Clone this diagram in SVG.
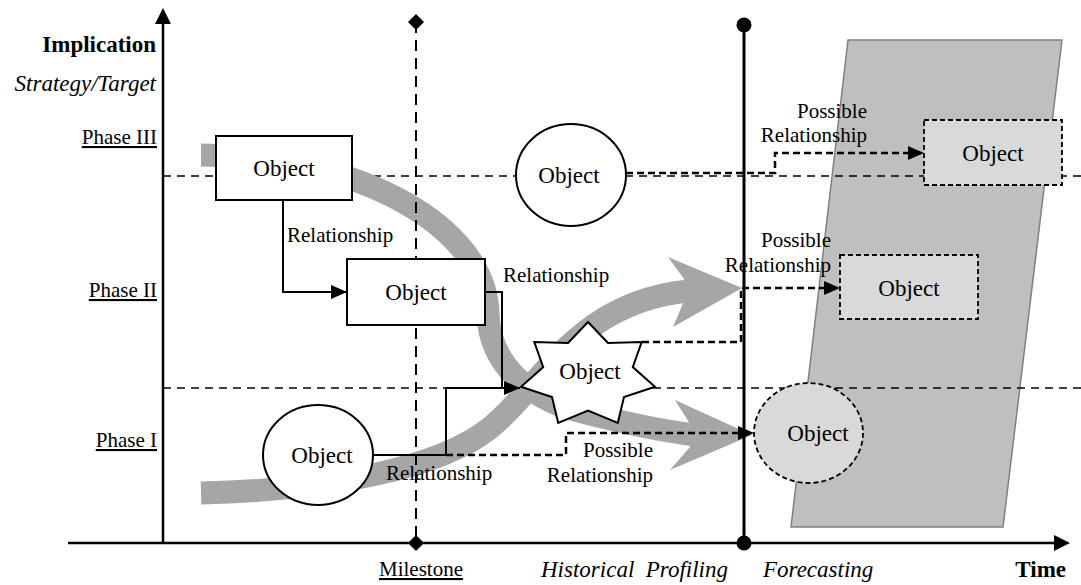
<svg xmlns="http://www.w3.org/2000/svg" width="1081" height="585" viewBox="0 0 1081 585">
<style>
text{font-family:"Liberation Serif","Times New Roman",serif;fill:#000}
.lbl{font-size:21px}
.obj{font-size:23px;text-anchor:middle}
.it{font-style:italic;font-size:23px}
.bd{font-weight:bold;font-size:23px}
.ul{text-decoration:underline}
.phase{fill:none;stroke:#000;stroke-width:1.5;stroke-dasharray:8 6}
.band{fill:none;stroke:#a6a6a6;stroke-width:23}
.bandhead{fill:#a6a6a6}
.solid{fill:none;stroke:#000;stroke-width:2}
.dash{fill:none;stroke:#000;stroke-width:2.5;stroke-dasharray:7 4}
.node{fill:#fff;stroke:#000;stroke-width:2}
.fnode{fill:#d9d9d9;stroke:#000;stroke-width:1.8;stroke-dasharray:5 3}
</style>
<defs>
<marker id="ah" viewBox="0 0 16 14" refX="16" refY="7" markerWidth="16" markerHeight="14" markerUnits="userSpaceOnUse" orient="auto">
<path d="M0,0 L16,7 L0,14 z" fill="#000" stroke="none"/>
</marker>
</defs>

<g id="forecast-area">
<polygon points="848,40 1062,40 1003,527 791,527" fill="#bfbfbf" stroke="#808080" stroke-width="1.5"/>
</g>

<g id="phase-lines">
<line class="phase" x1="163" y1="176" x2="1081" y2="176"/>
<line class="phase" x1="163" y1="388" x2="1081" y2="388"/>
</g>

<g id="trend-bands">
<path class="band" d="M201,155 C360,155 488,228 488,315 C490,365 530,398 578,411 C620,422 655,430 695,435"/>
<polygon class="bandhead" points="752,435 675,400 690,424 690,447 670,470"/>
<path class="band" d="M201,493 C330,490 440,468 490,428 C530,396 550,352 605,318 C635,300 665,292 700,290"/>
<polygon class="bandhead" points="742,288 668,257 684,279 684,301 673,327"/>
</g>

<g id="axes">
<line x1="163" y1="22" x2="163" y2="543" stroke="#000" stroke-width="2.5"/>
<polygon points="163,8 171,24 155,24" fill="#000"/>
<line x1="68" y1="543" x2="1056" y2="543" stroke="#000" stroke-width="2.5"/>
<polygon points="1070,543 1054,535 1054,551" fill="#000"/>
<line x1="416" y1="22" x2="416" y2="543" stroke="#000" stroke-width="2" stroke-dasharray="11 7"/>
<polygon points="416,14 424,22 416,30 408,22" fill="#000"/>
<polygon points="416,535 424,543 416,551 408,543" fill="#000"/>
<line x1="744" y1="25" x2="744" y2="543" stroke="#000" stroke-width="3"/>
<circle cx="744" cy="25" r="7.5" fill="#000"/>
<circle cx="744" cy="543" r="7.5" fill="#000"/>
</g>

<g id="connectors">
<polyline class="solid" points="283,200 283,292 347,292" marker-end="url(#ah)"/>
<polyline class="solid" points="486,292 502,292 502,388 520,388" marker-end="url(#ah)"/>
<polyline class="solid" points="373,455 446,455 446,388 505,388"/>
<polyline class="dash" points="446,455 566,455 566,433 754,433" marker-end="url(#ah)"/>
<polyline class="dash" points="642,342 741,342 741,288 840,288" marker-end="url(#ah)"/>
<polyline class="dash" points="626,173 775,173 775,153 924,153" marker-end="url(#ah)"/>
<text class="lbl" x="287" y="242">Relationship</text>
<text class="lbl" x="503" y="282">Relationship</text>
<text class="lbl" x="386" y="480">Relationship</text>
<text class="lbl" x="653" y="457" text-anchor="end">Possible</text>
<text class="lbl" x="653" y="482" text-anchor="end">Relationship</text>
<text class="lbl" x="831" y="247" text-anchor="end">Possible</text>
<text class="lbl" x="831" y="272" text-anchor="end">Relationship</text>
<text class="lbl" x="867" y="118" text-anchor="end">Possible</text>
<text class="lbl" x="867" y="142" text-anchor="end">Relationship</text>
</g>

<g id="object-box-1">
<rect class="node" x="216" y="136" width="136" height="64"/>
<text class="obj" x="284" y="176">Object</text>
</g>
<g id="object-box-2">
<rect class="node" x="347" y="259" width="138" height="66"/>
<text class="obj" x="416" y="300">Object</text>
</g>
<g id="object-circle-top">
<ellipse class="node" cx="571" cy="175" rx="55" ry="51"/>
<text class="obj" x="569" y="183">Object</text>
</g>
<g id="object-circle-low">
<ellipse class="node" cx="318" cy="455" rx="55" ry="50"/>
<text class="obj" x="322" y="463">Object</text>
</g>
<g id="object-star">
<polygon class="node" points="588,322 608,343 641.7,342 632.8,367.1 655,386.8 624,397.1 617.8,422.8 588,410.5 558.2,422.8 552,397.1 521,386.8 543.2,367.1 534.3,342 568,343"/>
<text class="obj" x="590" y="379">Object</text>
</g>
<g id="object-future-1">
<rect class="fnode" x="924" y="120" width="138" height="65"/>
<text class="obj" x="993" y="161">Object</text>
</g>
<g id="object-future-2">
<rect class="fnode" x="840" y="255" width="138" height="64"/>
<text class="obj" x="909" y="296">Object</text>
</g>
<g id="object-future-3">
<ellipse class="fnode" cx="808.5" cy="433" rx="54.5" ry="50"/>
<text class="obj" x="818" y="441">Object</text>
</g>

<g id="axis-labels">
<text class="bd" x="156" y="52" text-anchor="end">Implication</text>
<text class="it" x="156" y="91" text-anchor="end">Strategy/Target</text>
<text class="lbl ul" x="157" y="144" text-anchor="end">Phase III</text>
<text class="lbl ul" x="157" y="297" text-anchor="end">Phase II</text>
<text class="lbl ul" x="157" y="447" text-anchor="end">Phase I</text>
<text class="lbl ul" x="421" y="576" text-anchor="middle">Milestone</text>
<text class="it" x="541" y="577" xml:space="preserve">Historical  Profiling</text>
<text class="it" x="763" y="577">Forecasting</text>
<text class="bd" x="1066" y="577" text-anchor="end">Time</text>
</g>
</svg>
